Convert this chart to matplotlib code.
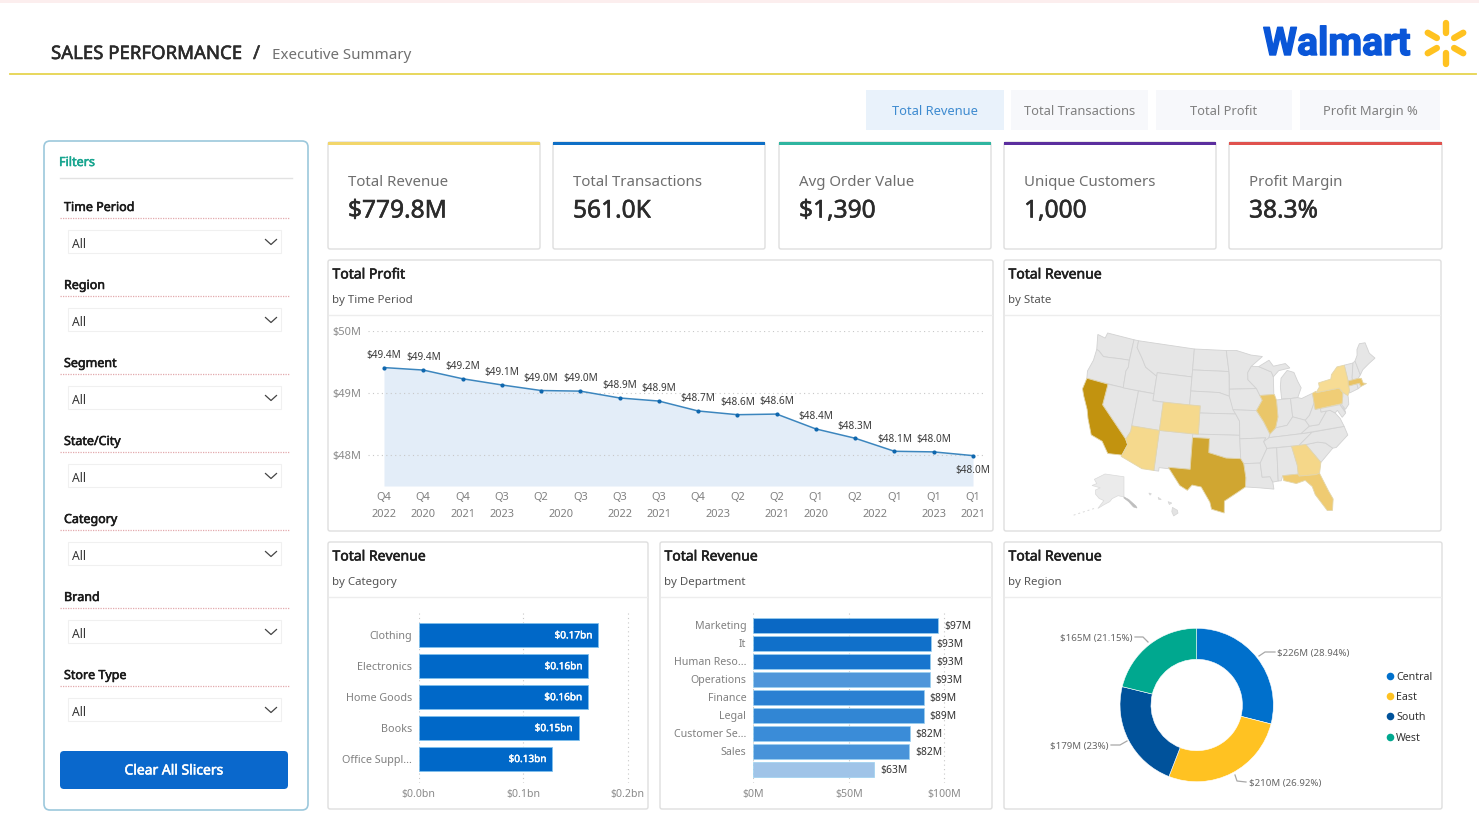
import numpy as np
import matplotlib
matplotlib.use("Agg")
import matplotlib.pyplot as plt
import matplotlib.patheffects as pe
from matplotlib.patches import FancyBboxPatch, Rectangle
from matplotlib.colors import LinearSegmentedColormap

plt.rcParams['font.family'] = ['Noto Sans', 'DejaVu Sans']

W, H = 1479, 823

# ---------- data ----------
tab_labels = ["Total Revenue", "Total Transactions", "Total Profit", "Profit Margin %"]
kpi_names = ["Total Revenue", "Total Transactions", "Avg Order Value", "Unique Customers", "Profit Margin"]
kpi_values = ["$779.8M", "561.0K", "$1,390", "1,000", "38.3%"]
filter_names = ["Time Period", "Region", "Segment", "State/City", "Category", "Brand", "Store Type"]

quarters = ["Q4", "Q4", "Q4", "Q3", "Q2", "Q3", "Q3", "Q3", "Q4", "Q2", "Q2", "Q1", "Q2", "Q1", "Q1", "Q1"]
years_lvl = ["2022", "2020", "2021", "2023", "2020", None, "2022", "2021", "2023", None, "2021", "2020", "2022", None, "2023", "2021"]
profit = [49.41, 49.37, 49.23, 49.13, 49.04, 49.03, 48.92, 48.87, 48.71, 48.65, 48.66, 48.42, 48.27, 48.06, 48.05, 47.99]
profit_labels = ["$49.4M", "$49.4M", "$49.2M", "$49.1M", "$49.0M", "$49.0M", "$48.9M", "$48.9M",
                 "$48.7M", "$48.6M", "$48.6M", "$48.4M", "$48.3M", "$48.1M", "$48.0M", "$48.0M"]

cat_names = ["Clothing", "Electronics", "Home Goods", "Books", "Office Suppl..."]
cat_values = [0.172, 0.1625, 0.1622, 0.153, 0.128]
cat_labels = ["$0.17bn", "$0.16bn", "$0.16bn", "$0.15bn", "$0.13bn"]

dept_names = ["Marketing", "It", "Human Reso...", "Operations", "Finance", "Legal", "Customer Se...", "Sales", ""]
dept_values = [96.9, 92.8, 92.7, 92.6, 89.2, 89.2, 81.8, 81.7, 63.4]
dept_labels = ["$97M", "$93M", "$93M", "$93M", "$89M", "$89M", "$82M", "$82M", "$63M"]
dept_colors = ["#0A68C4", "#1070CA", "#1875CE", "#4F96DA", "#2A80D2", "#3186D4", "#3A8CD8", "#4893D9", "#A0C4E8"]

region_names = ["Central", "East", "South", "West"]
region_values = [226, 210, 179, 165]
region_labels = ["$226M (28.94%)", "$210M (26.92%)", "$179M (23%)", "$165M (21.15%)"]
region_colors = ["#0070CC", "#FFC222", "#00529B", "#00A88F"]

state_values = {"CA": 100, "TX": 66, "MA": 40, "IL": 38, "FL": 33, "PA": 30, "GA": 15, "AZ": 12, "CO": 12, "NY": 6}

states = {
 "WA": [(-124.7,48.4),(-123,48.2),(-122.8,49),(-117,49),(-117,46),(-119,45.9),(-121,45.7),(-122.3,45.6),(-123.5,46.2),(-124,46.3)],
 "OR": [(-124,46.3),(-123.5,46.2),(-122.3,45.6),(-121,45.7),(-119,45.9),(-117,46),(-116.9,45),(-117.2,44.4),(-117,42),(-124.2,42),(-124.5,43),(-124,44.7)],
 "CA": [(-124.2,42),(-120,42),(-120,39),(-114.6,35),(-114.1,34.3),(-114.7,32.7),(-117.1,32.5),(-118.5,34),(-120.6,34.5),(-121.9,36.6),(-122.5,37.8),(-123.8,39.5),(-124.4,40.4)],
 "NV": [(-120,42),(-114,42),(-114,36.2),(-114.6,35),(-120,39)],
 "ID": [(-117,49),(-116,49),(-116,48),(-114.5,46.6),(-113.5,45.5),(-111,44.5),(-111,42),(-117,42),(-117.2,44.4),(-116.9,45),(-117,46)],
 "MT": [(-116,49),(-104,49),(-104,45),(-111,45),(-111,44.5),(-113.5,45.5),(-114.5,46.6),(-116,48)],
 "WY": [(-111,45),(-104,45),(-104,41),(-111,41)],
 "UT": [(-114,42),(-111,42),(-111,41),(-109,41),(-109,37),(-114,37)],
 "CO": [(-109,41),(-102,41),(-102,37),(-109,37)],
 "AZ": [(-114,37),(-109,37),(-109,31.3),(-111,31.3),(-114.8,32.5),(-114.7,32.7),(-114.1,34.3),(-114.6,35),(-114,36.2)],
 "NM": [(-109,37),(-103,37),(-103,32),(-106.6,32),(-106.5,31.8),(-108.2,31.8),(-108.2,31.3),(-109,31.3)],
 "ND": [(-104,49),(-97.2,49),(-96.6,46),(-104,46)],
 "SD": [(-104,46),(-96.6,46),(-96.5,42.5),(-98.5,43),(-104,43)],
 "NE": [(-104,43),(-98.5,43),(-96.5,42.5),(-95.3,40),(-102,40),(-102,41),(-104,41)],
 "KS": [(-102,40),(-95.3,40),(-94.6,39),(-94.6,37),(-102,37)],
 "OK": [(-103,37),(-94.6,37),(-94.5,33.7),(-97,33.8),(-100,34.5),(-100,36.5),(-103,36.5)],
 "TX": [(-106.6,32),(-103,32),(-103,36.5),(-100,36.5),(-100,34.5),(-97,33.8),(-94.5,33.7),(-94,33),(-93.7,31),(-93.8,29.7),(-95,29),(-97.2,27.7),(-97.2,26),(-99.2,26.5),(-99.5,27.5),(-101,29.6),(-102.5,29.8),(-103.2,29),(-104.5,29.6),(-106.5,31.8)],
 "MN": [(-97.2,49),(-95,49),(-92,48.3),(-89.6,48),(-92,46.7),(-92.8,45.8),(-92.8,44.8),(-91.2,43.5),(-96.5,43.5),(-96.5,45.5),(-96.6,46)],
 "IA": [(-96.5,43.5),(-91.2,43.5),(-90.2,41.8),(-91.4,40.4),(-95.8,40.6),(-96.5,42.5)],
 "MO": [(-95.8,40.6),(-91.4,40.4),(-90.2,38.8),(-89.2,37),(-89.7,36),(-90.4,36),(-90,36.5),(-94.6,36.5),(-94.6,39),(-95.3,40)],
 "AR": [(-94.6,36.5),(-90,36.5),(-90.4,36),(-89.9,35),(-91.2,33),(-94,33),(-94.5,33.7)],
 "LA": [(-94,33),(-91.2,33),(-91,31),(-89.7,31),(-89.3,30.2),(-89.2,29.2),(-91.5,29.5),(-93.8,29.7),(-93.7,31)],
 "WI": [(-92,46.7),(-90.5,46.6),(-88,45.7),(-87.7,45),(-87.9,42.5),(-90.6,42.5),(-91.2,43.5),(-92.8,44.8),(-92.8,45.8)],
 "IL": [(-90.6,42.5),(-87.8,42.5),(-87.5,41.7),(-87.5,39.3),(-88.1,37.8),(-89.2,37),(-90.2,38.8),(-91.4,40.4),(-90.2,41.8)],
 "MI": [(-86.5,41.8),(-84.8,41.7),(-83.4,41.7),(-82.5,43),(-83,44),(-83.5,45.3),(-84.8,45.7),(-86.2,44.7),(-86.5,43.5)],
 "UP": [(-90.5,46.6),(-88.3,47.4),(-87.5,46.5),(-85,46.7),(-84.2,46),(-86.5,45.8),(-87.7,45),(-88,45.7)],
 "IN": [(-87.5,41.7),(-84.8,41.7),(-84.8,39.1),(-86,38),(-88.1,37.8),(-87.5,39.3)],
 "OH": [(-84.8,41.7),(-83.4,41.7),(-82.7,41.5),(-80.5,42),(-80.5,40.6),(-81.7,39),(-82.6,38.4),(-84.8,39.1)],
 "KY": [(-89.2,37),(-88.1,37.8),(-86,38),(-84.8,39.1),(-82.6,38.4),(-82,37.5),(-83.7,36.6),(-89.4,36.5)],
 "TN": [(-89.9,35),(-90.4,36),(-89.4,36.5),(-83.7,36.6),(-81.7,36.6),(-84.3,35)],
 "MS": [(-91.2,33),(-89.9,35),(-88.2,35),(-88.4,30.3),(-89.3,30.2),(-89.7,31),(-91,31)],
 "AL": [(-88.2,35),(-85.6,35),(-85,32.3),(-85,31),(-87.6,31),(-87.9,30.3),(-88.4,30.3)],
 "GA": [(-85.6,35),(-83.1,35),(-81,32.2),(-81.5,30.7),(-82.2,30.6),(-84.9,30.7),(-85,31),(-85,32.3)],
 "FL": [(-87.6,31),(-85,31),(-84.9,30.7),(-82.2,30.6),(-81.5,30.7),(-80.5,28),(-80,26.8),(-80.4,25.2),(-81.2,25.3),(-82.7,27.8),(-83,29),(-84,30),(-85.5,29.7),(-87.5,30.3)],
 "SC": [(-83.1,35),(-81,35.1),(-79.7,34.8),(-78.6,33.9),(-81,32.2)],
 "NC": [(-84.3,35),(-81.7,36.6),(-75.9,36.6),(-75.6,35.3),(-78,33.9),(-78.6,33.9),(-79.7,34.8),(-81,35.1),(-83.1,35)],
 "VA": [(-83.7,36.6),(-82,37.5),(-80.3,37.5),(-78.5,39.2),(-77.8,39.2),(-77,38.7),(-76.3,37.8),(-76,36.9),(-75.9,36.6)],
 "WV": [(-82.6,38.4),(-81.7,39),(-80.5,40.6),(-80.5,39.7),(-79.5,39.7),(-79.5,39.2),(-78.5,39.2),(-80.3,37.5),(-82,37.5)],
 "MD": [(-79.5,39.7),(-75.8,39.7),(-75.1,38.4),(-75.9,37.9),(-76.5,39),(-77,38.7),(-77.8,39.2),(-79.5,39.2)],
 "DE": [(-75.8,39.7),(-75.4,39.8),(-75.1,38.5)],
 "PA": [(-80.5,42),(-79.8,42.2),(-79.8,42),(-75.3,42),(-74.8,41.3),(-75,40.7),(-75.4,39.8),(-80.5,39.7)],
 "NY": [(-79.8,42),(-79,42.7),(-79,43.3),(-76.5,43.5),(-76.2,44.1),(-74.8,45),(-73.3,45),(-73.3,42.7),(-73.5,41.3),(-74,40.7),(-74.8,41.3),(-75.3,42)],
 "NJ": [(-74.8,41.3),(-74,41),(-74,40.5),(-74.2,39.5),(-75,38.9),(-75.5,39.6),(-75,40.7)],
 "CT": [(-73.5,42),(-71.8,42),(-71.8,41.3),(-73.6,41)],
 "RI": [(-71.8,42),(-71.3,42),(-71.2,41.5),(-71.8,41.3)],
 "MA": [(-73.3,42.7),(-71.3,42.7),(-70.7,42.6),(-70.6,41.9),(-70,41.7),(-71.2,41.5),(-71.3,42),(-73.5,42)],
 "VT": [(-73.3,45),(-71.5,45),(-72.4,43),(-72.4,42.7),(-73.3,42.7)],
 "NH": [(-71.5,45),(-71,45.2),(-70.7,43.1),(-71.3,42.7),(-72.4,42.7),(-72.4,43)],
 "ME": [(-71,45.2),(-70.3,45.9),(-70,46.7),(-69.2,47.4),(-68,47.3),(-67.8,45.7),(-67,44.8),(-68.5,44.3),(-70,43.7),(-70.7,43.1)],
}
alaska = [(-168,65.6),(-164,66.5),(-166,68.5),(-157,71),(-141,69.7),(-141,60.2),(-146,60.8),(-151,59.4),(-153,58),(-158,56.5),(-163,54.8),(-158,58.5),(-162,59.5),(-165,61.5),(-165,63.5),(-161,64.5)]
alaska_tail = [(-141,60.2),(-137,59),(-131,56),(-130,55),(-133,55.5),(-137,58),(-141,59.7)]
hawaii = [[(-155.9,20.2),(-155.1,19.8),(-155,19.4),(-155.7,19),(-156,19.6)],
          [(-156.6,21),(-156,20.8),(-156.4,20.6)], [(-158.2,21.6),(-157.7,21.3),(-158.1,21.3)], [(-159.7,22.2),(-159.3,22.1),(-159.5,21.9)]]


def fs(px):
    return px * 0.72


def faux_bold(t, color, w=0.4):
    t.set_path_effects([pe.withStroke(linewidth=w, foreground=color)])
    return t


fig = plt.figure(figsize=(W / 100, H / 100), dpi=100, facecolor="white")


def add_px_axes(x0, y0, x1, y1, **kw):
    return fig.add_axes([x0 / W, 1 - y1 / H, (x1 - x0) / W, (y1 - y0) / H], **kw)


bg = fig.add_axes([0, 0, 1, 1])
bg.set_xlim(0, W)
bg.set_ylim(H, 0)
bg.axis("off")


def rect(x0, y0, x1, y1, fc="white", ec="none", lw=1.0, r=0, z=1, ax=bg):
    if r:
        p = FancyBboxPatch((x0, y0), x1 - x0, y1 - y0, boxstyle=f"round,pad=0,rounding_size={r}",
                           fc=fc, ec=ec, lw=lw, zorder=z)
    else:
        p = Rectangle((x0, y0), x1 - x0, y1 - y0, fc=fc, ec=ec, lw=lw, zorder=z)
    ax.add_patch(p)


def txt(x, y, s, px=12, color="#333333", bold=False, ha="left", va="center", z=5, ax=bg, **kw):
    t = ax.text(x, y + 1, s, fontsize=fs(px), color=color, ha=ha, va=va, zorder=z, **kw)
    if bold:
        faux_bold(t, color)
    return t


# ---------- header ----------
rect(0, 0, W, 3, fc="#FCEEEE")
txt(51, 53, "SALES PERFORMANCE", 18.6, "#2A2A2A", True)
txt(253, 53, "/", 19, "#333333", True)
txt(272, 54, "Executive Summary", 15.1, "#707070")
bg.plot([10, 1476], [74, 74], color="#E6D44F", lw=1.3, zorder=2)

logo = bg.text(1263, 44.5, "Walmart", fontsize=fs(39), color="#0A56D8", fontweight="bold", family="Roboto",
               ha="left", va="center", zorder=5)
faux_bold(logo, "#0A56D8", 1.0)
for ang in np.arange(30, 360, 60):
    a = np.deg2rad(ang)
    bg.plot([1445.5 + 10 * np.cos(a), 1445.5 + 20.5 * np.cos(a)], [43 - 10 * np.sin(a), 43 - 20.5 * np.sin(a)],
            color="#FFC220", lw=4.6, solid_capstyle="round", zorder=3)

# ---------- tabs ----------
tab_x = [(866, 1004), (1011, 1148), (1156, 1292), (1300, 1440)]
for i, ((a, b), t) in enumerate(zip(tab_x, tab_labels)):
    rect(a, 90, b, 130, fc="#E9F2FB" if i == 0 else "#F7F8FB")
    txt((a + b) / 2, 110.5, t, 12.9, "#3E8BD0" if i == 0 else "#808080", ha="center")

# ---------- filter panel ----------
rect(44, 141, 308, 810, fc="white", ec="#9CC8DC", lw=1.2, r=6)
txt(59, 161.5, "Filters", 12.6, "#17A58F", True)
bg.plot([60, 292], [177.5, 177.5], color="#E2E2E2", lw=1)
for i, name in enumerate(filter_names):
    y = 207 + 78 * i
    txt(64, y - 0.5, name, 12.5, "#1A1A1A", True)
    bg.plot([60, 290], [y + 10.5, y + 10.5], color="#E3A9AD", lw=0.9, ls=(0, (1, 1)))
    rect(68, y + 23, 281, y + 46, fc="white", ec="#F0F0F0", lw=0.8)
    txt(72, y + 36, "All", 12.2, "#333333")
    bg.plot([265.5, 271, 276.5], [y + 32.5, y + 37.5, y + 32.5], color="#444444", lw=0.9)
rect(60, 751, 288, 789, fc="#0A68CC", r=4)
txt(174, 770, "Clear All Slicers", 13.9, "white", True, ha="center")

# ---------- KPI cards ----------
kpi_x = [(328, 540), (553, 765), (779, 991), (1004, 1216), (1229, 1442)]
kpi_col = ["#F2D66B", "#0F6FC6", "#2FB5A0", "#5B2E9E", "#E0524E"]
for (a, b), c, n, v in zip(kpi_x, kpi_col, kpi_names, kpi_values):
    rect(a, 142, b, 249, fc="white", ec="#DEDEDE", lw=1, r=2)
    rect(a, 142, b, 145, fc=c, z=2)
    txt(a + 20, 181.5, n, 15, "#6E6E6E")
    txt(a + 20, 210, v, 24.5, "#2B2B2B", True)

# ---------- chart panels ----------
panels = [(328, 260, 993, 531, "Total Profit", "by Time Period", 315),
          (1004, 260, 1441, 531, "Total Revenue", "by State", 315),
          (328, 542, 648, 809, "Total Revenue", "by Category", 597),
          (660, 542, 992, 809, "Total Revenue", "by Department", 597),
          (1004, 542, 1442, 809, "Total Revenue", "by Region", 597)]
for a, t, b, u, ti, sub, sep in panels:
    rect(a, t, b, u, fc="white", ec="#DEDEDE", lw=1, r=2)
    txt(a + 4.5, t + 14, ti, 14, "#1F1F1F", True)
    txt(a + 4.5, t + 40, sub, 11.5, "#555555")
    bg.plot([a + 1, b - 1], [sep, sep], color="#EDEDED", lw=1, zorder=2)

# ---------- line / area chart ----------
ax = add_px_axes(368, 331, 985, 486, facecolor="none")
step = (973 - 384) / 15
ax.set_xlim(-(384 - 368) / step, 15 + (985 - 973) / step)
ax.set_ylim(47.5, 50)
xs = np.arange(len(profit))
ax.fill_between(xs, profit, 47.5, color="#E3EDF8", lw=0, zorder=1)
ax.plot(xs, profit, color="#3C86BE", lw=1.1, zorder=3)
ax.scatter(xs, profit, s=9, color="#0F67AE", zorder=4, lw=0)
ax.set_yticks([48, 49, 50])
ax.grid(axis="y", color="#C8C8C8", ls=(0, (1, 3)), lw=0.8, zorder=2)
ax.set_axisbelow(False)
ax.set_yticklabels(["$48M", "$49M", "$50M"], fontsize=fs(11), color="#8A8A8A")
ax.tick_params(axis="y", length=0, pad=5)
ax.set_xticks(xs)
ax.set_xticklabels(quarters, fontsize=fs(11), color="#808080")
ax.tick_params(axis="x", length=0, pad=4.2)
for s in ax.spines.values():
    s.set_visible(False)
for i, (v, l) in enumerate(zip(profit, profit_labels)):
    off = -12.2 if i < len(profit) - 1 else 14.5
    ax.annotate(l, (i, v), xytext=(0, -off * 0.72), textcoords="offset points", ha="center", va="center",
                fontsize=fs(10), color="#3A3A3A", zorder=6, annotation_clip=False)
for i, y in enumerate(years_lvl):
    if y is None:
        continue
    pos = i + 0.5 if i + 1 < len(years_lvl) and years_lvl[i + 1] is None else i
    ax.annotate(y, (pos, 0), xycoords=ax.get_xaxis_transform(), xytext=(0, -28.5 * 0.72),
                textcoords="offset points", ha="center", va="center", fontsize=fs(11), color="#808080",
                annotation_clip=False)

# ---------- map ----------
def albers(lon, lat, p1=29.5, p2=45.5, lon0=-96.0, lat0=37.5):
    p1, p2, lat0r = np.deg2rad(p1), np.deg2rad(p2), np.deg2rad(lat0)
    n = (np.sin(p1) + np.sin(p2)) / 2
    c = np.cos(p1) ** 2 + 2 * n * np.sin(p1)
    rho = np.sqrt(c - 2 * n * np.sin(np.deg2rad(lat))) / n
    rho0 = np.sqrt(c - 2 * n * np.sin(lat0r)) / n
    th = n * np.deg2rad(np.asarray(lon) - lon0)
    return rho * np.sin(th), rho0 - rho * np.cos(th)


m = add_px_axes(1040, 320, 1420, 530, facecolor="none")
m.set_xlim(1040, 1420)
m.set_ylim(530, 320)
m.axis("off")
proj = {k: np.array(albers(*np.array(v).T)).T for k, v in states.items()}
allp = np.vstack(list(proj.values()))
mn, mx = allp.min(0), allp.max(0)
bx = (1082.5, 1375.0)
by = (513.0, 333.0)


def to_px(p):
    return np.c_[bx[0] + (p[:, 0] - mn[0]) / (mx[0] - mn[0]) * (bx[1] - bx[0]),
                 by[0] + (p[:, 1] - mn[1]) / (mx[1] - mn[1]) * (by[1] - by[0])]


cmap = LinearSegmentedColormap.from_list("gold", ["#F9E09B", "#EFCB72", "#CFA52F", "#C2930F"])
vmax = max(state_values.values())
for k, p in proj.items():
    col = cmap(state_values[k] / vmax) if k in state_values else "#E6E6E6"
    m.fill(*to_px(p).T, fc=col, ec="#D2D2D2" if k not in state_values else "#E3D6AC", lw=0.6, zorder=2 if k not in state_values else 3)


def inset(poly, lon_rng, lat_rng, x_rng, y_rng):
    a = np.array(poly, float)
    return np.c_[x_rng[0] + (a[:, 0] - lon_rng[0]) / (lon_rng[1] - lon_rng[0]) * (x_rng[1] - x_rng[0]),
                 y_rng[0] + (a[:, 1] - lat_rng[0]) / (lat_rng[1] - lat_rng[0]) * (y_rng[1] - y_rng[0])]


ak = dict(lon_rng=(-168, -130), lat_rng=(71, 55), x_rng=(1092, 1137), y_rng=(474, 508))
m.fill(*inset(alaska, **ak).T, fc="#EBEBEB", ec="#DADADA", lw=0.5)
m.fill(*inset(alaska_tail, **ak).T, fc="#BEBEBE", ec="#BEBEBE", lw=0.5)
m.plot(*inset([(-163, 54.8), (-170, 53.5), (-178, 52)], lon_rng=(-163, -178), lat_rng=(55, 52),
              x_rng=(1094, 1071), y_rng=(508, 516)).T, color="#DADADA", lw=0.7, ls=(0, (2, 3)))
for h in hawaii:
    m.fill(*inset(h, lon_rng=(-160, -155), lat_rng=(22.2, 19), x_rng=(1147, 1178), y_rng=(493, 516)).T,
           fc="#E3E3E3", ec="#D5D5D5", lw=0.5)

# ---------- category bars ----------
c = add_px_axes(418.7, 611, 632, 783, facecolor="none")
band = 30.9
c.set_xlim(0, (632 - 418.7) / 1044.5)
c.set_ylim(4.5 + (783 - 774.3) / band, -0.5 - (619.7 - 611) / band)
yc = np.arange(len(cat_names))
c.barh(yc, cat_values, height=0.79, color="#0068C8", edgecolor="#7FC0EC", lw=0.6, zorder=3)
for i, (v, l) in enumerate(zip(cat_values, cat_labels)):
    faux_bold(c.annotate(l, (v, i), xytext=(-4, -0.5), textcoords="offset points", ha="right", va="center",
                         fontsize=fs(10), color="white", zorder=5), "white", 0.3)
c.set_xticks([0, 0.1, 0.2])
c.set_xticklabels(["$0.0bn", "$0.1bn", "$0.2bn"], fontsize=fs(10.6), color="#8A8A8A")
c.set_yticks(yc)
c.set_yticklabels(cat_names, fontsize=fs(10.8), color="#808080")
c.tick_params(length=0)
c.tick_params(axis="y", pad=5)
c.tick_params(axis="x", pad=4)
c.grid(axis="x", color="#C8C8C8", ls=(0, (1, 3)), lw=0.8, zorder=1)
c.set_axisbelow(True)
for s in c.spines.values():
    s.set_visible(False)

# ---------- department bars ----------
d = add_px_axes(753.3, 611, 975, 783, facecolor="none")
d.set_xlim(0, (975 - 753.3) / 1.91)
band2 = 18.0
d.set_ylim(8.5 + (783 - 778.3) / band2, -0.5 - (616.3 - 611) / band2)
yd = np.arange(len(dept_names))
d.barh(yd, dept_values, height=0.82, color=dept_colors, edgecolor="#9AD0F0", lw=0.5, zorder=3)
for i, (v, l) in enumerate(zip(dept_values, dept_labels)):
    d.annotate(l, (v, i), xytext=(4, -0.7), textcoords="offset points", ha="left", va="center",
               fontsize=fs(10.3), color="#333333", zorder=5)
d.set_xticks([0, 50, 100])
d.set_xticklabels(["$0M", "$50M", "$100M"], fontsize=fs(10.6), color="#8A8A8A")
d.set_yticks(yd)
d.set_yticklabels(dept_names, fontsize=fs(10.6), color="#808080")
d.tick_params(length=0)
d.tick_params(axis="y", pad=5)
d.tick_params(axis="x", pad=4)
d.grid(axis="x", color="#C8C8C8", ls=(0, (1, 3)), lw=0.8, zorder=1)
d.set_axisbelow(True)
for s in d.spines.values():
    s.set_visible(False)

# ---------- donut ----------
cx, cy, R = 1196.7, 705.0, 76.7
p = add_px_axes(cx - 90, cy - 90, cx + 90, cy + 90, facecolor="none")
p.pie(region_values, colors=region_colors, startangle=90, counterclock=False, radius=R,
      wedgeprops=dict(width=R - 45.7, edgecolor="white", linewidth=0.4))
p.set_xlim(-90, 90)
p.set_ylim(-90, 90)
leaders = [([1259, 1265, 1275], [656, 652, 652], region_labels[0], 1277, 652.5, "left"),
           ([1235, 1237, 1246], [775, 781, 782], region_labels[1], 1249, 782.5, "left"),
           ([1127, 1120, 1111], [741, 745, 745], region_labels[2], 1108, 745.5, "right"),
           ([1148, 1143, 1135], [642, 637, 637], region_labels[3], 1132, 637.5, "right")]
for lx, ly, l, tx, ty, ha in leaders:
    bg.plot(lx, ly, color="#A8A8A8", lw=0.9, zorder=3)
    txt(tx, ty, l, 9.7, "#666666", ha=ha)
for name, col, y in zip(region_names, region_colors, [676, 696, 716, 737]):
    bg.scatter([1390], [y], s=30, color=col, lw=0, zorder=4)
    txt(1396, y + 0.5, name, 10.6, "#333333")

fig.savefig("out.png", dpi=100, facecolor="white")
